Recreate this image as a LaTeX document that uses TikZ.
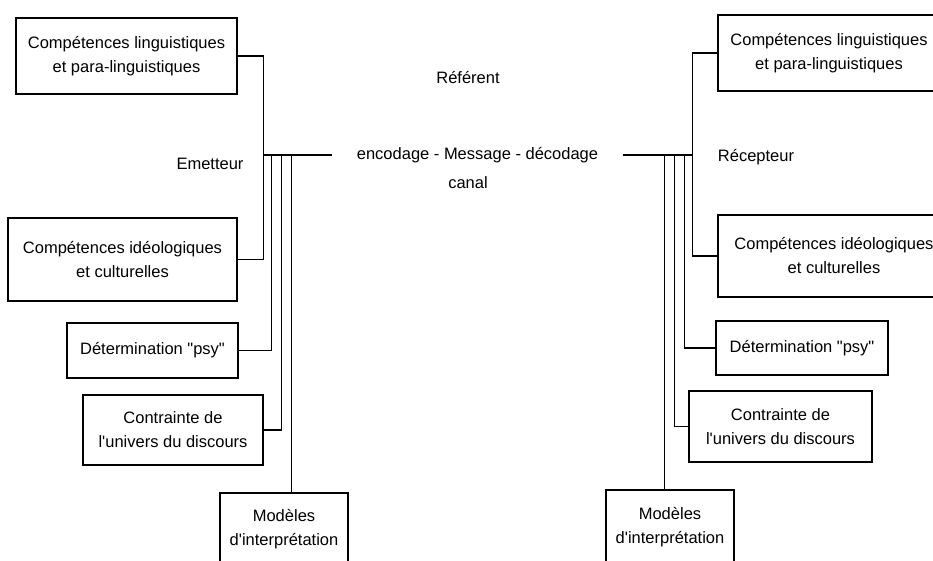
\documentclass[tikz,border=0pt]{standalone}
\usepackage{fontspec}
\newfontfamily\dfont{Liberation Sans}
\begin{document}
\begin{tikzpicture}[x=1pt,y=-1pt, line width=1.1pt,
  box/.style={draw, align=center, inner sep=0pt, font=\dfont\fontsize{16.5}{24}\selectfont},
  lbl/.style={inner sep=0pt, font=\dfont\fontsize{16.5}{24}\selectfont}]
\useasboundingbox (0,0) rectangle (933,561);
\fill[white] (0,0) rectangle (933,561);
\clip (0,0) rectangle (933,561);
% left boxes
\node[box, minimum width=221pt, minimum height=76pt] (L1) at (126.5,56) {Compétences linguistiques\\et para-linguistiques};
\node[box, minimum width=229pt, minimum height=83pt] (L2) at (122.5,259.5) {Compétences idéologiques\\et culturelles};
\node[box, minimum width=171pt, minimum height=55pt] (L3) at (152.5,350.5) {Détermination "psy"};
\node[box, minimum width=180pt, minimum height=70pt] (L4) at (173,430) {Contrainte de\\l'univers du discours};
\node[box, minimum width=128pt, minimum height=72pt] (L5) at (284,529) {Modèles\\d'interprétation};
% right boxes
\node[box, minimum width=222pt, minimum height=76pt] (R1) at (829,53) {Compétences linguistiques\\et para-linguistiques};
\node[box, minimum width=232pt, minimum height=82pt] (R2) at (834,256) {Compétences idéologiques\\et culturelles};
\node[box, minimum width=172pt, minimum height=54pt] (R3) at (802,348) {Détermination "psy"};
\node[box, minimum width=183pt, minimum height=71pt] (R4) at (780.5,426.5) {Contrainte de\\l'univers du discours};
\node[box, minimum width=128pt, minimum height=74pt] (R5) at (670,527) {Modèles\\d'interprétation};
% labels
\node[lbl] (em) at (210,164) {Emetteur};
\node[lbl] (rc) at (756,157) {Récepteur};
\node[lbl] (ref) at (468,78) {Référent};
\node[lbl, minimum width=289pt] (msg) at (477.5,155) {encodage - Message - décodage};
\node[lbl] (can) at (468,183) {canal};
% junctions
\coordinate (ej) at (263.5,155);
\coordinate (e1) at (271.5,155);
\coordinate (e2) at (281.5,155);
\coordinate (e3) at (291.5,155);
\coordinate (rj) at (692.5,155);
\coordinate (r1) at (684.5,155);
\coordinate (r2) at (674.5,155);
\coordinate (r3) at (664.5,155);
% connectors
\draw (L1.east) -| (ej) |- (L2.east);
\draw (ej) -- (msg.west);
\draw (msg.east) -- (rj);
\draw (L3.east) -| (e1);
\draw (L4.east) -| (e2);
\draw (e3) -- (e3 |- L5.north);
\draw (R1.west) -| (rj) |- (R2.west);
\draw (R3.west) -| (r1);
\draw (R4.west) -| (r2);
\draw (r3) -- (r3 |- R5.north);
\end{tikzpicture}
\end{document}
